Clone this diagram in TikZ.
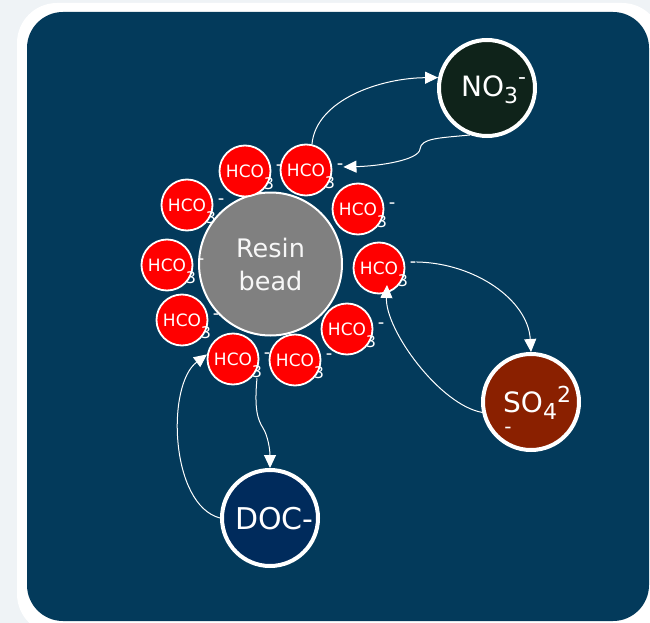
\documentclass[tikz,border=0pt]{standalone}
\usepackage{fontspec}
\setmainfont{DejaVu Sans}
\usetikzlibrary{arrows.meta,calc}
\definecolor{pagebg}{HTML}{EFF3F6}
\definecolor{navy}{RGB}{3,58,91}
\definecolor{hcored}{HTML}{FF0000}
\definecolor{resingray}{HTML}{808080}
\definecolor{nocol}{HTML}{0F231A}
\definecolor{socol}{HTML}{8A2000}
\definecolor{doccol}{HTML}{002B5C}
\newcommand\hcoring[3]{\node[hco] (#1) at (#2,#3) {HCO};}
\newcommand\hcolabs[1]{%
  \node[hsub] (#1s) at ([shift={(24,13)}]#1.center) {3};
  \node[hdash] (#1m) at ([shift={(34,-3)}]#1.center) {-};}
\begin{document}
\begin{tikzpicture}[x=1pt,y=-1pt,
  hco/.style={circle,draw=white,line width=1.8pt,fill=hcored,minimum size=51pt,
    inner sep=0pt,text=white,font=\fontsize{17}{17}\selectfont},
  hsub/.style={inner sep=0pt,text=white,font=\fontsize{16}{16}\selectfont},
  hdash/.style={inner sep=0pt,text=white,font=\fontsize{18}{18}\selectfont},
  bigion/.style={circle,draw=white,line width=4pt,minimum size=96pt,inner sep=0pt},
  bigtext/.style={inner sep=0pt,anchor=base west,text=white,font=\fontsize{28}{28}\selectfont},
  conn/.style={draw=white,line width=1pt,-{Triangle[length=13pt,width=12pt]}}
]
\useasboundingbox (0,0) rectangle (650,623);
\clip (0,0) rectangle (650,623);
\fill[pagebg] (0,0) rectangle (650,623);
\fill[white,rounded corners=40pt] (17,3) rectangle (662,634);
\fill[navy,rounded corners=36pt] (27,12) rectangle (649,621);

% resin bead
\node[circle,draw=white,line width=2pt,fill=resingray,minimum size=143pt,inner sep=0pt,
  align=center,text=white!94!gray,font=\fontsize{25.5}{33}\selectfont] (resin) at (270.5,264) {Resin\\bead};

% HCO3 ions
\hcoring{h1}{245}{171}
\hcoring{h2}{306}{170}
\hcoring{h3}{187}{205}
\hcoring{h4}{358}{209}
\hcoring{h5}{167}{265}
\hcoring{h6}{379}{268}
\hcoring{h7}{182}{320}
\hcoring{h8}{347}{329}
\hcoring{h9}{233}{359}
\hcoring{h10}{295}{360}
\hcolabs{h1}\hcolabs{h2}\hcolabs{h3}\hcolabs{h4}\hcolabs{h5}
\hcolabs{h6}\hcolabs{h7}\hcolabs{h8}\hcolabs{h9}\hcolabs{h10}

% big ions
\node[bigion,fill=nocol] (no3) at (487,88) {};
\node[bigtext] (no3t) at (461,97) {NO{\fontsize{22}{22}\selectfont\raisebox{-7pt}{3}\raisebox{13pt}{-}}};
\node[bigion,fill=socol] (so4) at (531,402) {};
\node[bigtext] (so4t) at (503,412) {SO{\fontsize{22}{22}\selectfont\raisebox{-7pt}{4}\raisebox{10pt}{2}}};
\node[inner sep=0pt,text=white,font=\fontsize{20}{20}\selectfont] (so4m) at (508,430) {-};
\node[bigion,fill=doccol] (doc) at (270,518) {};
\node[bigtext,font=\fontsize{30}{30}\selectfont] (doct) at (235,529) {DOC-};

% connectors
\draw[conn] (h2.77) .. controls (316,100) and (380,78) .. (no3.168);
\draw[conn] (no3.250) .. controls (440,138) and (421,138) .. (420,149)
   .. controls (419,160) and (380,166) .. (h2m.east);
\draw[conn] (h6m.north east) .. controls (475,263) and (528,300) .. (so4.north);
\draw[conn] (so4.192) .. controls (440,405) and (385,330) .. ([shift={(8,17)}]h6.center);
\draw[conn] (h9s.south) .. controls (254,410) and (258,420) .. (263,428)
   .. controls (268,436) and (270,450) .. (doc.north);
\draw[conn] (doc.west) .. controls (170,505) and (166,385) .. (h9.170);
\end{tikzpicture}
\end{document}
